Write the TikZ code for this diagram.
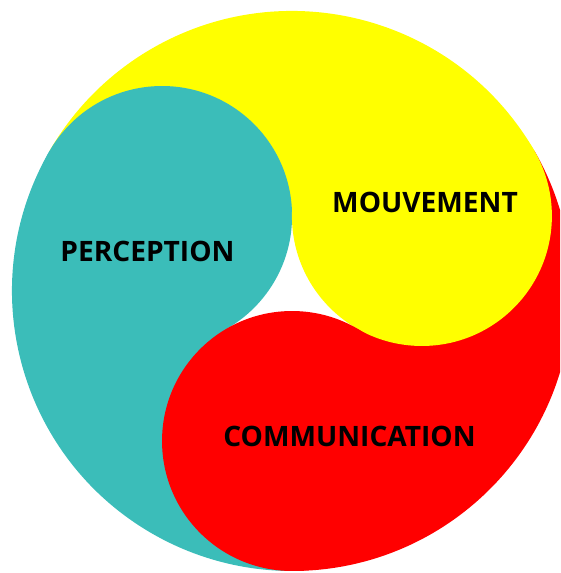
\documentclass[tikz,border=0pt]{standalone}
\usepackage{fontspec}
\setmainfont{Open Sans}
\usetikzlibrary{positioning}
\definecolor{percteal}{RGB}{59,189,185}
\definecolor{mouvyellow}{RGB}{255,255,0}
\definecolor{commred}{RGB}{255,0,0}

\begin{document}
\begin{tikzpicture}[
    x=0.02cm, y=0.02cm,
    head/.style={circle, minimum size=5.2cm, inner sep=0pt},
    word/.style={font=\fontsize{16}{19}\selectfont\bfseries, text=black}
]
    \useasboundingbox (0,0) rectangle (560,573);
    \clip (0,0) rectangle (560,573);
    \coordinate (o) at (292,282);

    % Tails
    \fill[mouvyellow] (o) -- ([shift={(30:280)}]o) arc[start angle=30, end angle=150, radius=280] -- cycle;
    \fill[percteal] (o) -- ([shift={(150:280)}]o) arc[start angle=150, end angle=270, radius=280] -- cycle;
    \fill[commred] (o) -- ([shift={(270:280)}]o) arc[start angle=270, end angle=390, radius=280] -- cycle;

    % Centre
    \fill[white] ([shift={(90:75)}]o) -- ([shift={(210:75)}]o) -- ([shift={(330:75)}]o) -- cycle;

    % Heads
    \node[head, fill=percteal] (perc) at ([shift={(150:150)}]o) {};
    \node[head, fill=mouvyellow] (mouv) at ([shift={(30:150)}]o) {};
    \node[head, fill=commred] (comm) at ([shift={(270:150)}]o) {};

    % Labels
    \node[word] (perclabel) at (147.5,321.5) {PERCEPTION};
    \node[word] (mouvlabel) at (425,370.5) {MOUVEMENT};
    \node[word] (commlabel) at (349.5,137) {COMMUNICATION};
\end{tikzpicture}
\end{document}
